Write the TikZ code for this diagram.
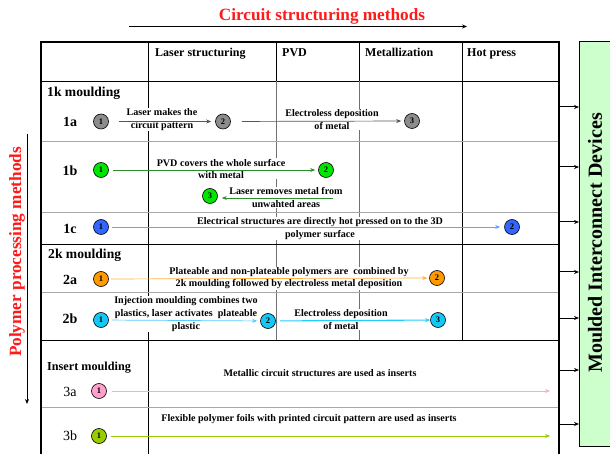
\documentclass[tikz,border=0pt]{standalone}
\usepackage{fontspec}
\setmainfont{Liberation Serif}
\usetikzlibrary{arrows.meta}
\definecolor{ttlred}{HTML}{FF1A1A}
\definecolor{boxgreen}{HTML}{CCFFCC}
\definecolor{sepgray}{HTML}{A8A8A8}
\definecolor{colgray}{HTML}{707070}
\definecolor{cgray}{HTML}{8C8C8C}
\definecolor{cgreen}{HTML}{00E600}
\definecolor{cblue}{HTML}{3366FF}
\definecolor{corange}{HTML}{FF9900}
\definecolor{ccyan}{HTML}{14C8F5}
\definecolor{cpink}{HTML}{FFA0CC}
\definecolor{colive}{HTML}{99CC00}
\definecolor{agray}{HTML}{555555}
\definecolor{agreen}{HTML}{2E8B2E}
\definecolor{ablue}{HTML}{6F9CFF}
\definecolor{aorange}{HTML}{FFB040}
\definecolor{acyan}{HTML}{55CCFF}
\definecolor{acyanb}{HTML}{22CCFF}
\definecolor{apink}{HTML}{FFAACC}
\begin{document}
\begin{tikzpicture}[x=1pt,y=-1pt,
  lbl/.style={font=\fontsize{10.1}{12.6}\selectfont\bfseries, align=center, fill=white, inner sep=0.6pt},
  hdr/.style={font=\fontsize{12}{14}\selectfont\bfseries, anchor=base west, inner sep=0pt},
  grp/.style={font=\fontsize{13.6}{16}\selectfont\bfseries, anchor=west, inner sep=0pt},
  rowlbl/.style={font=\fontsize{14}{16}\selectfont\bfseries, inner sep=0pt},
  rowlblr/.style={font=\fontsize{14}{16}\selectfont, inner sep=0pt},
  num/.style={circle, draw=black, line width=0.6pt, minimum size=15pt, inner sep=0pt, font=\fontsize{8.5}{9}\selectfont\bfseries},
  arr/.style={-{Stealth[length=5pt,width=4pt]}, line width=0.7pt},
  rarr/.style={-{Stealth[length=5pt,width=4pt]}, line width=1pt, black},
  border/.style={line width=1.8pt, black},
  inner/.style={line width=0.9pt, black},
  sep/.style={line width=0.9pt, sepgray},
  icol/.style={line width=0.9pt, colgray}
]
\useasboundingbox (0,0) rectangle (610,454);

% titles
\node[font=\fontsize{17.2}{20}\selectfont\bfseries, text=ttlred, inner sep=0pt] (ttl) at (322,16) {Circuit structuring methods};
\coordinate (ta) at (129,26.5);
\coordinate (tb) at (467,26.5);
\draw[rarr, line width=0.9pt] (ta) -- (tb);

\node[font=\fontsize{17.2}{20}\selectfont\bfseries, text=ttlred, inner sep=0pt, rotate=90] (ltl) at (17,252) {Polymer processing methods};
\coordinate (la) at (27,134);
\coordinate (lb) at (27,404);
\draw[rarr, line width=0.9pt] (la) -- (lb);

% grid
\draw[inner] (41,81) -- (559,81);
\draw[inner] (148,42) -- (148,460);
\draw[inner] (276,42) -- (276,81);
\draw[inner] (359,42) -- (359,81);
\draw[icol] (276,81) -- (276,340);
\draw[icol] (359,81) -- (359,340);
\draw[inner] (462,42) -- (462,340);
\draw[sep] (41,141) -- (559,141);
\draw[sep] (41,212) -- (559,212);
\draw[inner] (41,244) -- (559,244);
\draw[sep] (41,292) -- (559,292);
\draw[inner] (41,340) -- (559,340);
\draw[sep] (41,407) -- (559,407);
\draw[border] (41,470) -- (41,42) -- (559,42) -- (559,470);

% headers
\node[hdr] (h1) at (155,57) {Laser structuring};
\node[hdr] (h2) at (282,57) {PVD};
\node[hdr] (h3) at (365,57) {Metallization};
\node[hdr] (h4) at (467,57) {Hot press};

% group labels
\node[grp] (g1) at (47,93) {1k moulding};
\node[grp] (g2) at (48,255) {2k moulding};
\node[grp, font=\fontsize{12.2}{14}\selectfont\bfseries] (g3) at (47,368) {Insert moulding};

% row labels
\node[rowlbl] (r1a) at (70,122) {1a};
\node[rowlbl] (r1b) at (70,171) {1b};
\node[rowlbl] (r1c) at (70,229) {1c};
\node[rowlbl] (r2a) at (70,280) {2a};
\node[rowlbl] (r2b) at (70,319) {2b};
\node[rowlblr] (r3a) at (70,392) {3a};
\node[rowlblr] (r3b) at (70,436) {3b};

% text labels
\node[lbl] (t1a1) at (162,119.8) {Laser makes the\\circuit pattern};
\node[lbl] (t1a2) at (332,119.3) {Electroless deposition\\of metal};
\node[lbl] (t1b1) at (221,168.8) {PVD covers the whole surface\\with metal};
\node[lbl] (t1b2) at (286,197.5) {Laser removes metal from\\unwahted areas};
\node[lbl] (t1c) at (320,228.3) {Electrical structures are directly hot pressed on to the 3D\\polymer surface};
\node[lbl] (t2a) at (289,278.2) {Plateable and non-plateable polymers are\ \ combined by\\2k moulding followed by electroless metal deposition};
\node[lbl] (t2b1) at (186,314) {Injection moulding combines two\\plastics, laser activates\ \ plateable\\plastic};
\node[lbl] (t2b2) at (341,319.5) {Electroless deposition\\of metal};
\node[lbl] (t3a) at (320,373) {Metallic circuit structures are used as inserts};
\node[lbl] (t3b) at (309,419) {Flexible polymer foils with printed circuit pattern are used as inserts};

% circles
\node[num, fill=cgray] (a1) at (101,121.5) {1};
\node[num, fill=cgray] (a2) at (223,121.5) {2};
\node[num, fill=cgray] (a3) at (412,121) {3};
\node[num, fill=cgreen] (b1) at (101,170) {1};
\node[num, fill=cgreen] (b2) at (326,170) {2};
\node[num, fill=cgreen] (b3) at (210,196) {3};
\node[num, fill=cblue] (c1) at (101,227) {1};
\node[num, fill=cblue] (c2) at (512,227) {2};
\node[num, fill=corange] (d1) at (101,279) {1};
\node[num, fill=corange] (d2) at (437,278) {2};
\node[num, fill=ccyan] (e1) at (101,320) {1};
\node[num, fill=ccyan] (e2) at (268,321) {2};
\node[num, fill=ccyan] (e3) at (438,320) {3};
\node[num, fill=cpink] (f1) at (99,391) {1};
\node[num, fill=colive] (k1) at (99,436) {1};

% connectors
\draw[arr, agray, shorten <=10pt, shorten >=4pt] (a1) -- (a2);
\draw[arr, agray, shorten <=11pt, shorten >=3pt] (a2) -- (a3);
\draw[arr, agreen, shorten <=4pt, shorten >=3pt] (b1) -- (b2);
\coordinate (bret) at (333,198);
\draw[arr, agreen, shorten >=4pt] (bret) -- (b3.east |- bret);
\draw[arr, ablue, shorten <=3pt, shorten >=4pt] (c1) -- (c2);
\draw[arr, aorange, shorten <=2pt, shorten >=2pt] (d1) -- (d2);
\draw[arr, acyan, shorten <=3pt, shorten >=3pt] (e1) -- (e2);
\draw[arr, acyanb, line width=1.1pt, shorten <=4pt, shorten >=0pt] (e2) -- (e3);
\coordinate (fend) at (550,391);
\draw[arr, apink, shorten <=5pt] (f1) -- (fend);
\coordinate (kend) at (550,436);
\draw[arr, colive, shorten <=4pt] (k1) -- (kend);

% right box
\node[draw=black, line width=0.9pt, fill=boxgreen, anchor=north west, minimum width=33pt, minimum height=405pt, inner sep=0pt] (mid) at (579,41) {};
\node[font=\fontsize{20}{24}\selectfont\bfseries, rotate=90, inner sep=0pt] (midt) at (595,243) {Moulded Interconnect Devices};
\foreach \yy [count=\i] in {107,167,222,272,318,370,424} {
  \coordinate (rs\i) at (559,\yy);
  \draw[rarr] (rs\i) -- (rs\i -| mid.west);
}
\end{tikzpicture}
\end{document}
